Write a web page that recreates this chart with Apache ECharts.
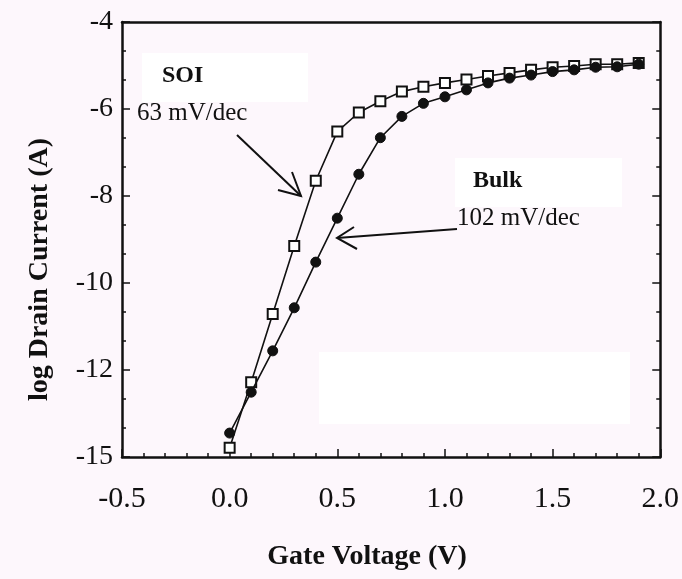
<!DOCTYPE html>
<html>
<head>
<meta charset="utf-8">
<script src="https://cdn.jsdelivr.net/npm/echarts@6/dist/echarts.min.js"></script>
<style>
  html, body { margin: 0; padding: 0; background: #fdf7fc; }
  #chart { width: 682px; height: 579px; }
</style>
</head>
<body>
<div id="chart"></div>
<script>
// gate voltage sweep (V)
const gateVoltage = [0.0, 0.1, 0.2, 0.3, 0.4, 0.5, 0.6, 0.7, 0.8, 0.9,
  1.0, 1.1, 1.2, 1.3, 1.4, 1.5, 1.6, 1.7, 1.8, 1.9];
// log drain current
const soiCurrent = [-13.79, -12.28, -10.71, -9.15, -7.65, -6.52, -6.08, -5.82, -5.60, -5.49,
  -5.40, -5.32, -5.24, -5.17, -5.10, -5.04, -5.01, -4.97, -4.97, -4.94];
const bulkCurrent = [-13.45, -12.51, -11.56, -10.57, -9.52, -8.51, -7.50, -6.66, -6.17, -5.87,
  -5.72, -5.56, -5.40, -5.29, -5.22, -5.14, -5.10, -5.04, -5.03, -4.97];
// printed tick labels (the bottom one reads -15 on the original)
const yTickLabels = ['-4', '-6', '-8', '-10', '-12', '-15'];

const serif = "'Liberation Serif', 'Times New Roman', serif";
const black = '#111';

const chart = echarts.init(document.getElementById('chart'));

const tickStyle = { color: black, width: 1.5 };
const axisLineStyle = { color: black, width: 2.5 };

const option = {
  backgroundColor: '#fdf7fc',
  animation: false,
  grid: { left: 122, right: 18, top: 22, bottom: 122 },
  xAxis: [
    {
      type: 'value',
      min: -0.5,
      max: 2.0,
      interval: 0.5,
      name: 'Gate Voltage (V)',
      nameLocation: 'middle',
      nameGap: 86,
      nameTextStyle: {
        fontFamily: serif, fontWeight: 'bold', fontSize: 28, color: black,
        padding: [0, 48, 0, 0],
      },
      axisLine: { onZero: false, lineStyle: axisLineStyle },
      axisTick: { inside: true, length: 8, lineStyle: tickStyle },
      minorTick: { show: true, splitNumber: 5, length: 4, lineStyle: tickStyle },
      axisLabel: {
        fontFamily: serif, fontSize: 30, color: black, margin: 27,
        formatter: (v) => v.toFixed(1),
      },
      splitLine: { show: false },
    },
    {
      type: 'value',
      position: 'top',
      min: -0.5,
      max: 2.0,
      axisLine: { onZero: false, lineStyle: axisLineStyle },
      axisTick: { show: false },
      axisLabel: { show: false },
      splitLine: { show: false },
    },
  ],
  yAxis: [
    {
      type: 'value',
      position: 'left',
      min: -14,
      max: -4,
      interval: 2,
      name: 'log Drain Current (A)',
      nameLocation: 'middle',
      nameGap: 68,
      nameTextStyle: {
        fontFamily: serif, fontWeight: 'bold', fontSize: 28, color: black,
        padding: [0, 60, 0, 0],
      },
      axisLine: { onZero: false, lineStyle: axisLineStyle },
      axisTick: { inside: true, length: 8, lineStyle: tickStyle },
      minorTick: { show: true, splitNumber: 3, length: 4, lineStyle: tickStyle },
      axisLabel: {
        fontFamily: serif, fontSize: 28, color: black, margin: 9,
        formatter: (v) => yTickLabels[Math.round((-4 - v) / 2)],
      },
      splitLine: { show: false },
    },
    {
      type: 'value',
      position: 'right',
      min: -14,
      max: -4,
      interval: 2,
      axisLine: { onZero: false, lineStyle: axisLineStyle },
      axisTick: { inside: true, length: 8, lineStyle: tickStyle },
      minorTick: { show: true, splitNumber: 3, length: 4, lineStyle: tickStyle },
      axisLabel: { show: false },
      splitLine: { show: false },
    },
  ],
  series: [
    {
      name: 'SOI',
      type: 'line',
      data: gateVoltage.map((v, i) => [v, soiCurrent[i]]),
      symbol: 'rect',
      symbolSize: 10,
      showAllSymbol: true,
      lineStyle: { color: black, width: 1.6 },
      itemStyle: { color: '#fff', borderColor: black, borderWidth: 2 },
      z: 2,
    },
    {
      name: 'Bulk',
      type: 'line',
      data: gateVoltage.map((v, i) => [v, bulkCurrent[i]]),
      symbol: 'circle',
      symbolSize: 10,
      showAllSymbol: true,
      lineStyle: { color: black, width: 1.6 },
      itemStyle: { color: black, borderColor: black, borderWidth: 1 },
      z: 3,
    },
  ],
  graphic: [
    // blanked-out patches
    { type: 'rect', shape: { x: 142, y: 53, width: 166, height: 49 }, style: { fill: '#fff' }, z: 10 },
    { type: 'rect', shape: { x: 455, y: 158, width: 167, height: 49 }, style: { fill: '#fff' }, z: 10 },
    { type: 'rect', shape: { x: 319, y: 352, width: 311, height: 72 }, style: { fill: '#fff' }, z: 10 },
    // labels
    {
      type: 'text', x: 162, y: 88, z: 11,
      style: { text: 'SOI', font: `bold 24px ${serif}`, fill: black, textVerticalAlign: 'bottom' },
    },
    {
      type: 'text', x: 137, y: 113, z: 11,
      style: { text: '63 mV/dec', font: `25px ${serif}`, fill: black, textVerticalAlign: 'middle' },
    },
    {
      type: 'text', x: 473, y: 193, z: 11,
      style: { text: 'Bulk', font: `bold 24px ${serif}`, fill: black, textVerticalAlign: 'bottom' },
    },
    {
      type: 'text', x: 457, y: 218, z: 11,
      style: { text: '102 mV/dec', font: `25px ${serif}`, fill: black, textVerticalAlign: 'middle' },
    },
    // arrows
    {
      type: 'polyline', z: 11,
      shape: { points: [[237, 135], [301, 196]] },
      style: { stroke: black, lineWidth: 2, fill: null },
    },
    {
      type: 'polyline', z: 11,
      shape: { points: [[278, 190], [301, 196], [292, 172]] },
      style: { stroke: black, lineWidth: 2, fill: null },
    },
    {
      type: 'polyline', z: 11,
      shape: { points: [[457, 229], [337, 238]] },
      style: { stroke: black, lineWidth: 2, fill: null },
    },
    {
      type: 'polyline', z: 11,
      shape: { points: [[354, 227], [337, 238], [357, 249]] },
      style: { stroke: black, lineWidth: 2, fill: null },
    },
  ],
};

chart.setOption(option);
</script>
</body>
</html>
